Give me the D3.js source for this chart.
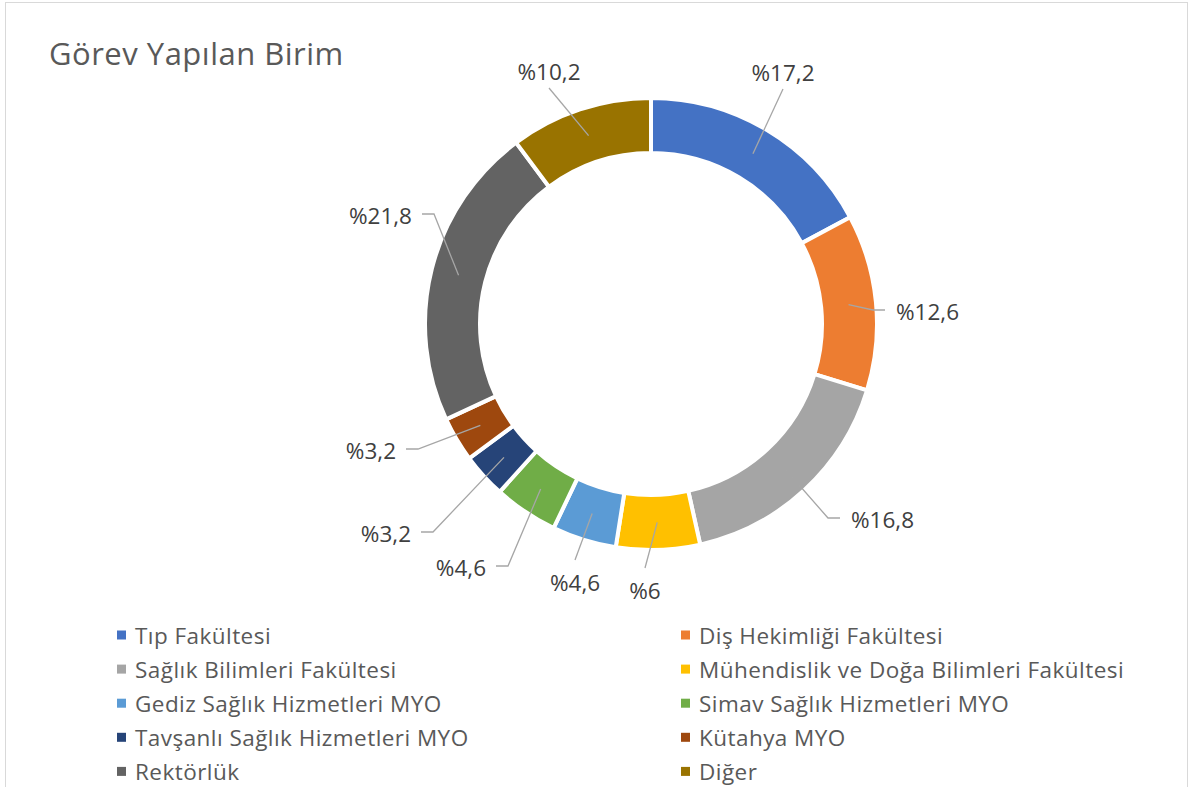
<!DOCTYPE html>
<html>
<head>
<meta charset="utf-8">
<script src="https://cdn.jsdelivr.net/npm/d3@7"></script>
<style>
  html, body { margin: 0; padding: 0; background: #fff; }
  svg { display: block; }
  text { font-family: "Open Sans", "Noto Sans", sans-serif; }
</style>
</head>
<body>
<svg id="chart" width="1191" height="787"></svg>
<script>
// ---- Data ----
const title = "Görev Yapılan Birim";
const categories = [
  "Tıp Fakültesi",
  "Diş Hekimliği Fakültesi",
  "Sağlık Bilimleri Fakültesi",
  "Mühendislik ve Doğa Bilimleri Fakültesi",
  "Gediz Sağlık Hizmetleri MYO",
  "Simav Sağlık Hizmetleri MYO",
  "Tavşanlı Sağlık Hizmetleri MYO",
  "Kütahya MYO",
  "Rektörlük",
  "Diğer"
];
const values = [17.2, 12.6, 16.8, 6, 4.6, 4.6, 3.2, 3.2, 21.8, 10.2];
const labels = ["%17,2", "%12,6", "%16,8", "%6", "%4,6", "%4,6", "%3,2", "%3,2", "%21,8", "%10,2"];
const colors = ["#4472C4", "#ED7D31", "#A5A5A5", "#FFC000", "#5B9BD5",
                "#70AD47", "#264478", "#9E480E", "#636363", "#997300"];

// ---- Label layout (leader elbow relative to centre, and label side) ----
const labelLayout = [
  { ex: 132, ey: -235, side: "top" },
  { ex: 222, ey: -14, side: "right" },
  { ex: 177, ey: 194, side: "right" },
  { ex: -6, ey: 244, side: "bottom" },
  { ex: -76, ey: 236, side: "bottom" },
  { ex: -143, ey: 242, side: "left" },
  { ex: -218, ey: 208, side: "left" },
  { ex: -233, ey: 125, side: "left" },
  { ex: -217, ey: -110, side: "left" },
  { ex: -102, ey: -236, side: "top" }
];

const svg = d3.select("#chart");
const cx = 651, cy = 324;

// chart border
svg.append("rect")
  .attr("x", 5.5).attr("y", 2.5)
  .attr("width", 1182).attr("height", 820)
  .attr("fill", "#fff").attr("stroke", "#d9d9d9").attr("stroke-width", 1);

// title
svg.append("text")
  .attr("x", 49).attr("y", 65)
  .attr("font-size", 31)
  .attr("letter-spacing", 0.5)
  .attr("fill", "#595959")
  .text(title);

const data = categories.map((c, i) => ({ cat: c, value: values[i], label: labels[i], color: colors[i], lay: labelLayout[i] }));

const pie = d3.pie().value(d => d.value).sort(null);
const arcs = pie(data);
const arc = d3.arc().innerRadius(171).outerRadius(226);
const midArc = d3.arc().innerRadius(198.5).outerRadius(198.5);

const g = svg.append("g").attr("transform", `translate(${cx},${cy})`);

g.selectAll("path.slice")
  .data(arcs)
  .join("path")
  .attr("class", "slice")
  .attr("d", arc)
  .attr("fill", d => d.data.color)
  .attr("stroke", "#fff")
  .attr("stroke-width", 4)
  .attr("stroke-linejoin", "miter");

// leader lines
const lineGen = d3.line();
g.selectAll("path.leader")
  .data(arcs)
  .join("path")
  .attr("class", "leader")
  .attr("fill", "none")
  .attr("stroke", "#a6a6a6")
  .attr("stroke-width", 1.3)
  .attr("d", d => {
    const c = midArc.centroid(d);
    const L = d.data.lay;
    const pts = [c, [L.ex, L.ey]];
    if (L.side === "right") pts.push([L.ex + 12, L.ey]);
    if (L.side === "left") pts.push([L.ex - 12, L.ey]);
    return lineGen(pts);
  });

// data labels
g.selectAll("text.lbl")
  .data(arcs)
  .join("text")
  .attr("class", "lbl")
  .attr("font-size", 22.5)
  .attr("fill", "#404040")
  .attr("dominant-baseline", "central")
  .attr("text-anchor", d => {
    const s = d.data.lay.side;
    return s === "left" ? "end" : s === "right" ? "start" : "middle";
  })
  .attr("x", d => {
    const L = d.data.lay;
    if (L.side === "right") return L.ex + 23;
    if (L.side === "left") return L.ex - 22;
    return L.ex;
  })
  .attr("y", d => {
    const L = d.data.lay;
    if (L.side === "top") return L.ey - 17;
    if (L.side === "bottom") return L.ey + 22;
    return L.ey + 1;
  })
  .text(d => d.data.label);

// legend
const legendCols = [117, 681];
const legendRow0 = 635, legendRowStep = 34.1;
const lg = svg.append("g");
const items = lg.selectAll("g.item")
  .data(data)
  .join("g")
  .attr("class", "item")
  .attr("transform", (d, i) => `translate(${legendCols[i % 2]},${legendRow0 + Math.floor(i / 2) * legendRowStep})`);
items.append("rect")
  .attr("x", 0).attr("y", -4.5)
  .attr("width", 9).attr("height", 9)
  .attr("fill", d => d.color);
items.append("text")
  .attr("x", 18).attr("y", 0)
  .attr("dominant-baseline", "central")
  .attr("font-size", 22.5)
  .attr("letter-spacing", 0.45)
  .attr("fill", "#595959")
  .text(d => d.cat);
</script>
</body>
</html>
